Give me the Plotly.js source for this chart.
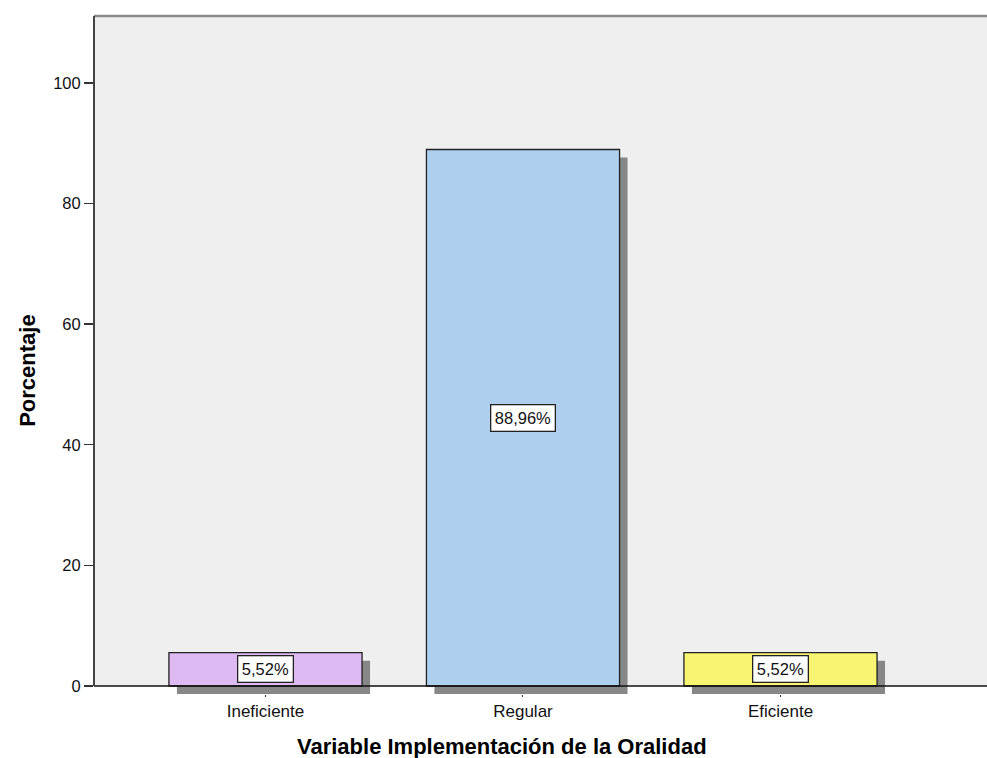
<!DOCTYPE html>
<html>
<head>
<meta charset="utf-8">
<script src="https://cdn.plot.ly/plotly-3.0.1.min.js"></script>
<style>html,body{margin:0;padding:0;background:#fff;}#chart{width:987px;height:758px;}</style>
</head>
<body>
<div id="chart"></div>
<script>
// Data
const categories = ["Ineficiente", "Regular", "Eficiente"];
const percentages = [5.52, 88.96, 5.52];
const valueLabels = ["5,52%", "88,96%", "5,52%"];
const barColors = ["#debaf2", "#aecfee", "#f8f572"];
const yTicks = [0, 20, 40, 60, 80, 100];

const FONT = "Liberation Sans, Arial, sans-serif";
const xIdx = categories.map((c, i) => i);
const barW = 0.75;
const shadowDx = 0.031;   // shadow offset in category units
const shadowDy = 1.33;    // shadow offset in value units

const shadow = {
  type: "bar",
  x: xIdx,
  y: percentages,
  base: percentages.map(() => -shadowDy),
  width: barW,
  offset: -barW / 2 + shadowDx,
  marker: {color: "#878787", line: {width: 0}},
  hoverinfo: "skip",
  showlegend: false
};
const bars = {
  type: "bar",
  x: xIdx,
  y: percentages,
  width: barW,
  offset: -barW / 2,
  marker: {color: barColors, line: {color: "#222", width: 1.3}},
  showlegend: false
};

const annotations = xIdx.map((x, i) => ({
  x: x, y: percentages[i] / 2, xref: "x", yref: "y",
  text: valueLabels[i], showarrow: false,
  bgcolor: "#ffffff", bordercolor: "#222", borderwidth: 1.3, borderpad: 3.5,
  font: {family: FONT, size: 16.5, color: "#111"}
}));
annotations.push({
  xref: "paper", yref: "paper", x: 0.457, y: -0.078, yanchor: "middle",
  text: "Variable Implementación de la Oralidad", showarrow: false,
  font: {family: FONT, size: 22, color: "#000", weight: "bold"}
});
annotations.push({
  xref: "paper", yref: "paper", x: -0.074, y: 0.478, textangle: -90,
  text: "Porcentaje", showarrow: false, xanchor: "center", yanchor: "middle",
  font: {family: FONT, size: 22, color: "#000", weight: "bold"}
});

const layout = {
  width: 987, height: 758,
  margin: {l: 94, r: 0, t: 16, b: 64},
  paper_bgcolor: "#ffffff",
  plot_bgcolor: "#efefef",
  barmode: "overlay",
  xaxis: {
    range: [-0.666, 2.802],
    tickvals: xIdx, ticktext: categories,
    showgrid: false, zeroline: false, showline: false,
    ticks: "outside", ticklen: 2, tickcolor: "#333",
    tickfont: {family: FONT, size: 17, color: "#111"}
  },
  yaxis: {
    range: [-shadowDy, 111.1],
    tickvals: yTicks,
    showgrid: false, zeroline: false, showline: false,
    ticks: "outside", ticklen: 9, tickwidth: 1.3, tickcolor: "#333",
    tickfont: {family: FONT, size: 16.5, color: "#111"}
  },
  shapes: [
    {type: "rect", layer: "below", xref: "paper", yref: "y", x0: 0, x1: 1, y0: -shadowDy, y1: 0,
     fillcolor: "#ffffff", line: {width: 0}},
    {type: "line", layer: "above", xref: "paper", yref: "y", x0: 0, x1: 1, y0: 0, y1: 0,
     line: {color: "#111", width: 1.3}},
    {type: "line", layer: "above", xref: "paper", yref: "paper", x0: 0, x1: 1, y0: 1, y1: 1,
     line: {color: "#8a8a8a", width: 2.5}},
    {type: "line", layer: "above", xref: "paper", yref: "y", x0: 0, x1: 0, y0: 0, y1: 111.1,
     line: {color: "#444", width: 2}}
  ],
  annotations: annotations
};

Plotly.newPlot("chart", [shadow, bars], layout, {displayModeBar: false, staticPlot: true});
</script>
</body>
</html>
